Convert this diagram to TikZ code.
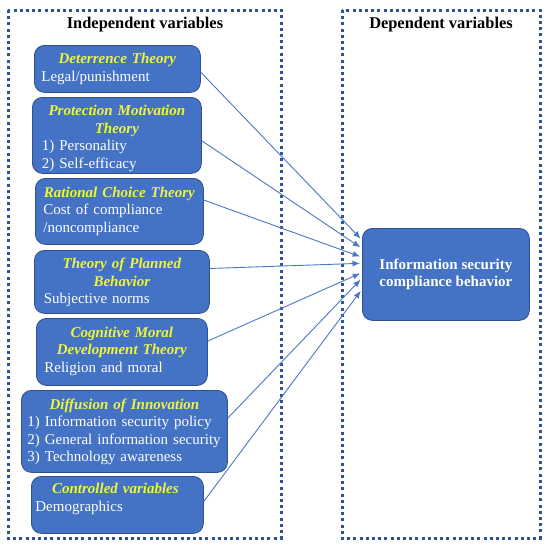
\documentclass[tikz,border=0pt]{standalone}
\usepackage{fontspec}
\setmainfont{Liberation Serif}
\usetikzlibrary{calc,arrows.meta}
\definecolor{boxblue}{HTML}{4472C4}
\definecolor{boxedge}{HTML}{2F528F}
\definecolor{dotblue}{HTML}{2F5597}
\definecolor{ttlyellow}{HTML}{EEF53A}
\definecolor{arrowblue}{HTML}{4A76C6}
\tikzset{
  framebox/.style={draw=dotblue, line width=3pt, dash pattern=on 3pt off 3.2pt},
  varbox/.style={draw=boxedge, line width=0.8pt, fill=boxblue, rounded corners=10pt, anchor=north west, inner sep=0pt},
  vartext/.style={anchor=north, inner sep=0pt, text=white, font=\fontsize{15}{17.5}\selectfont},
  heading/.style={font=\bfseries\fontsize{16.4}{19}\selectfont, inner sep=0pt},
  link/.style={draw=arrowblue, line width=0.9pt, -{Latex[length=7.5pt,width=6pt]}, shorten >=2pt},
}
\newcommand{\ttl}[1]{{\centering\color{ttlyellow}\bfseries\itshape #1\par}}
\begin{document}
\begin{tikzpicture}[x=1pt,y=-1pt]
\useasboundingbox (0,0) rectangle (549,550);
% frames
\path[framebox] (8,10) rectangle (281,538);
\path[framebox] (342,10) rectangle (540,538);
\node[heading] (h1) at (145,25) {Independent variables};
\node[heading] (h2) at (441,25) {Dependent variables};
% boxes
\node[varbox, minimum width=166pt, minimum height=47pt] (b1) at (34,45) {};
\node[varbox, minimum width=169pt, minimum height=76pt] (b2) at (32,97) {};
\node[varbox, minimum width=168pt, minimum height=66pt] (b3) at (35,178) {};
\node[varbox, minimum width=175pt, minimum height=63pt] (b4) at (34,250) {};
\node[varbox, minimum width=171pt, minimum height=67pt] (b5) at (36,318) {};
\node[varbox, minimum width=206pt, minimum height=82pt] (b6) at (21,390) {};
\node[varbox, minimum width=172pt, minimum height=57pt] (b7) at (31,476) {};
\node[varbox, minimum width=167pt, minimum height=92pt] (tgt) at (362,228) {};
% texts
\node[vartext, text width=152pt] (t1) at ($(b1.north)+(0,8)$) {\ttl{Deterrence Theory}\raggedright Legal/punishment\par};
\node[vartext, text width=150pt] (t2) at ($(b2.north)+(0,8)$) {\ttl{Protection Motivation\\ Theory}\raggedright 1) Personality\\ 2) Self-efficacy\par};
\node[vartext, text width=152pt] (t3) at ($(b3.north)+(0,8.5)$) {\ttl{Rational Choice Theory}\raggedright Cost of compliance\\ /noncompliance\par};
\node[vartext, text width=156pt] (t4) at ($(b4.north)+(0,8)$) {\ttl{Theory of Planned\\ Behavior}\raggedright Subjective norms\par};
\node[vartext, text width=155pt] (t5) at ($(b5.north)+(0,8.5)$) {\ttl{Cognitive Moral\\ Development Theory}\raggedright Religion and moral\par};
\node[vartext, text width=194pt] (t6) at ($(b6.north)+(0,8.5)$) {\ttl{Diffusion of Innovation}\raggedright 1) Information security policy\\ 2) General information security\\ 3) Technology awareness\par};
\node[vartext, text width=160pt] (t7) at ($(b7.north)+(-2,7)$) {\ttl{Controlled variables}\raggedright Demographics\par};
\node[text=white, font=\bfseries\fontsize{15}{17.5}\selectfont, align=center, inner sep=0pt] (tt) at (tgt.center) {Information security\\ compliance behavior};
% arrows
\draw[link] ($(b1.north east)!0.57!(b1.south east)$) -- ($(tgt.north west)!0.13!(tgt.south west)$);
\draw[link] ($(b2.north east)!0.57!(b2.south east)$) -- ($(tgt.north west)!0.22!(tgt.south west)$);
\draw[link] ($(b3.north east)!0.33!(b3.south east)$) -- ($(tgt.north west)!0.315!(tgt.south west)$);
\draw[link] ($(b4.north east)!0.29!(b4.south east)$) -- ($(tgt.north west)!0.38!(tgt.south west)$);
\draw[link] ($(b5.north east)!0.34!(b5.south east)$) -- ($(tgt.north west)!0.48!(tgt.south west)$);
\draw[link] ($(b6.north east)!0.34!(b6.south east)$) -- ($(tgt.north west)!0.54!(tgt.south west)$);
\draw[link] ($(b7.north east)!0.44!(b7.south east)$) -- ($(tgt.north west)!0.66!(tgt.south west)$);
\end{tikzpicture}
\end{document}
